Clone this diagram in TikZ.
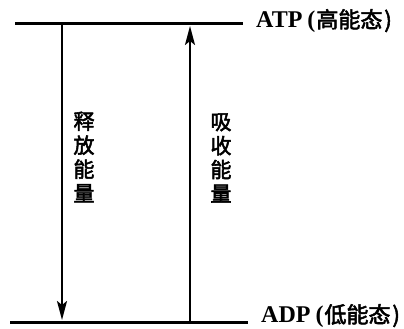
\documentclass[tikz,border=0pt]{standalone}
\usepackage{fontspec}
\usetikzlibrary{arrows.meta}
\setmainfont{Liberation Serif}
\newfontfamily\cjk{Noto Sans CJK SC}[AutoFakeBold=2.5]
\newcommand{\cjkpart}[1]{{\hspace{5pt}(\cjk\fontsize{22}{24}\selectfont\hspace{1pt}#1\hspace{2pt})}}
\begin{document}
\begin{tikzpicture}[x=1pt,y=-1pt,
  level/.style={line width=3pt},
  arr/.style={line width=2.2pt,-{Stealth[length=19pt,width=10pt,inset=4pt]}},
  vlabel/.style={font=\cjk\bfseries\fontsize{21}{24}\selectfont,align=center,inner sep=0pt},
  statelabel/.style={font=\bfseries\fontsize{24}{26}\selectfont,anchor=west,inner sep=0pt}]
\useasboundingbox (0,0) rectangle (404,329);
\coordinate (tl) at (15,24);
\coordinate (tr) at (243,24);
\coordinate (bl) at (10,322);
\coordinate (br) at (248,322);
\draw[level] (tl) -- (tr);
\draw[level] (bl) -- (br);
\coordinate (rt) at (62,24);
\coordinate (rb) at (62,320);
\coordinate (at) at (190,26);
\coordinate (ab) at (190,322);
\draw[arr] (rt) -- (rb);
\draw[arr] (ab) -- (at);
\node[statelabel] (atp) at (256,21) {ATP\cjkpart{高能态}};
\node[statelabel] (adp) at (261,316) {ADP\cjkpart{低能态}};
\node[vlabel] (rel) at (84,157) {释\\放\\能\\量};
\node[vlabel] (abs) at (221,158) {吸\\收\\能\\量};
\end{tikzpicture}
\end{document}
